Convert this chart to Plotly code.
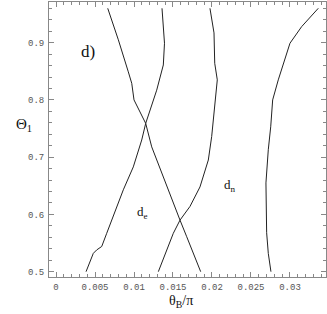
import plotly.graph_objects as go

# Curve data (theta_B/pi, Theta_1)
a_x = [0.00385, 0.00478, 0.00522, 0.00586, 0.00650, 0.00735, 0.00863, 0.00991, 0.01099, 0.0115, 0.01291, 0.01376, 0.01391, 0.01359]
a_y = [0.500, 0.532, 0.538, 0.544, 0.567, 0.596, 0.643, 0.683, 0.730, 0.759, 0.817, 0.861, 0.899, 0.960]

b_x = [0.00663, 0.00799, 0.00927, 0.00971, 0.0100, 0.0115, 0.01227, 0.01355, 0.01483, 0.0159, 0.01676, 0.0176, 0.01855]
b_y = [0.960, 0.905, 0.849, 0.829, 0.800, 0.759, 0.718, 0.672, 0.625, 0.590, 0.561, 0.532, 0.500]

c_x = [0.01312, 0.01419, 0.01504, 0.0159, 0.01718, 0.01846, 0.01953, 0.01996, 0.02017, 0.02068, 0.02035, 0.02026, 0.01974]
c_y = [0.500, 0.538, 0.567, 0.590, 0.614, 0.648, 0.695, 0.736, 0.765, 0.835, 0.864, 0.917, 0.960]

d_x = [0.03363, 0.0315, 0.0300, 0.02914, 0.0285, 0.02778, 0.02753, 0.02722, 0.02692, 0.02701, 0.02722, 0.02756]
d_y = [0.960, 0.928, 0.899, 0.864, 0.835, 0.800, 0.753, 0.713, 0.655, 0.568, 0.532, 0.500]

x_tickvals = [0, 0.005, 0.01, 0.015, 0.02, 0.025, 0.03]
x_ticktext = ["0", "0.005", "0.01", "0.015", "0.02", "0.025", "0.03"]
y_tickvals = [0.5, 0.6, 0.7, 0.8, 0.9]
y_ticktext = ["0.5", "0.6", "0.7", "0.8", "0.9"]

line_color = "#222222"
fig = go.Figure()
for xs, ys in [(a_x, a_y), (b_x, b_y), (c_x, c_y), (d_x, d_y)]:
    fig.add_trace(go.Scatter(x=xs, y=ys, mode="lines", hoverinfo="skip",
                             line=dict(color=line_color, width=1), showlegend=False))

axis_common = dict(
    showline=True, linecolor="#888888", linewidth=1, mirror="ticks",
    ticks="inside", ticklen=5, tickcolor="#888888", tickwidth=1,
    showgrid=False, zeroline=False, automargin=False,
    tickfont=dict(family="Liberation Mono, Courier New, monospace", size=9, color="#555555"),
)

fig.update_xaxes(range=[-0.0009, 0.03462], tickvals=x_tickvals, ticktext=x_ticktext,
                 ticklabelstandoff=1,
                 minor=dict(dtick=0.001, ticks="inside", ticklen=3, tickcolor="#888888"),
                 **axis_common)
fig.update_yaxes(range=[0.4907, 0.971], tickvals=y_tickvals, ticktext=y_ticktext,
                 ticklabelstandoff=2,
                 minor=dict(dtick=0.02, ticks="inside", ticklen=3, tickcolor="#888888"),
                 **axis_common)

serif = "Liberation Serif, Times New Roman, serif"
fig.add_annotation(x=0.0041, y=0.884, text="d)", showarrow=False,
                   font=dict(family=serif, size=17, color="#111111"))
fig.add_annotation(x=0.01115, y=0.6025, text="d<sub>e</sub>", showarrow=False,
                   font=dict(family=serif, size=13, color="#111111"))
fig.add_annotation(x=0.0223, y=0.651, text="d<sub>n</sub>", showarrow=False,
                   font=dict(family=serif, size=13, color="#111111"))
fig.add_annotation(xref="paper", yref="paper", x=-0.126, y=0.553, text="Θ<sub>1</sub>",
                   showarrow=False, font=dict(family=serif, size=15, color="#111111"))
fig.add_annotation(xref="paper", yref="paper", x=0.4765, y=-0.09, text="θ<sub>B</sub>/π",
                   showarrow=False, yanchor="middle",
                   font=dict(family=serif, size=14, color="#111111"))

fig.update_layout(width=327, height=314, margin=dict(l=49, r=1, t=2, b=37),
                  plot_bgcolor="white", paper_bgcolor="white", hovermode=False)
fig.write_html("out.html", config={"displayModeBar": False, "staticPlot": True},
               post_script="document.body.style.margin='0';document.body.style.overflow='hidden';")
